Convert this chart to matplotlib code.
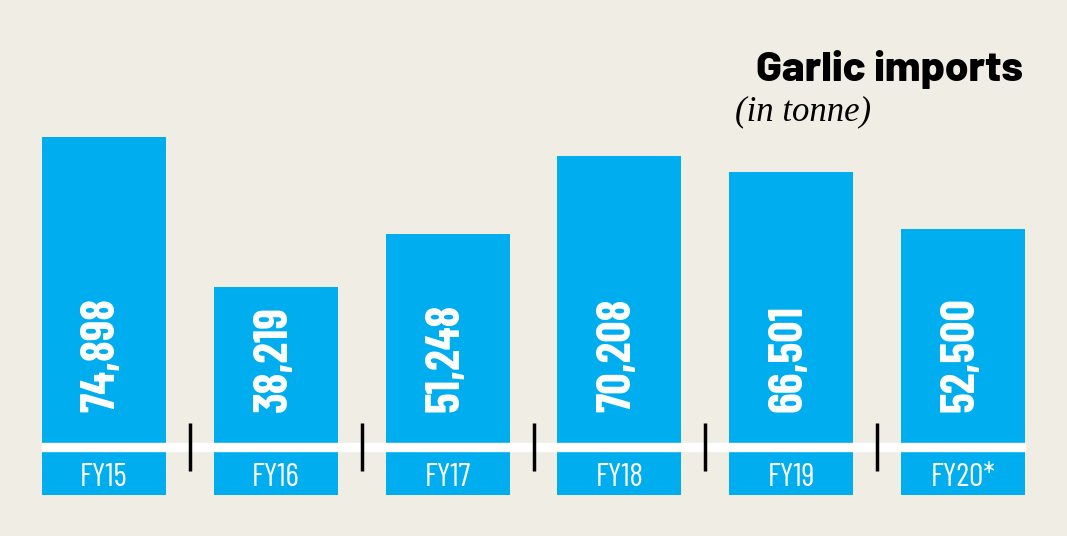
import matplotlib
matplotlib.use("Agg")
import matplotlib.pyplot as plt

years = ["FY15", "FY16", "FY17", "FY18", "FY19", "FY20*"]
imports = [74898, 38219, 51248, 70208, 66501, 52500]

bg = "#f0ede5"
blue = "#00adef"
cond = ["Barlow Condensed", "DejaVu Sans"]

W, H = 1067, 536
fig = plt.figure(figsize=(W / 100, H / 100), dpi=100, facecolor=bg)
ax = fig.add_axes([0, 0, 1, 1])
ax.set_facecolor(bg)

k = 245.0  # tonnes per pixel
base = 93  # pixels from bottom to baseline
step = 171.8
ax.set_xlim(-104 / step, (W - 104) / step)
ax.set_ylim(-base * k, (H - base) * k)
ax.axis("off")

x = range(len(years))
bw = 124 / step
ax.bar(x, imports, width=bw, color=blue, zorder=2)
ax.bar(x, [44 * k] * len(years), bottom=-52 * k, width=bw, color=blue, zorder=2)
ax.axhspan(-8 * k, 0, xmin=42 / W, xmax=1025 / W, color="white", zorder=3)
ax.vlines([i + 0.5 for i in range(len(years) - 1)], -28 * k, 20 * k,
          color="black", lw=2.5, zorder=3)

for i, v in enumerate(imports):
    ax.text(i - 0.01, 31 * k, f"{v:,}", rotation=90, ha="center", va="bottom",
            color="white", fontsize=34, fontweight="bold", family=cond, zorder=4)
    ax.text(i, -34.5 * k, years[i], ha="center", va="center", color="white",
            fontsize=23, family=cond, zorder=4)

fig.text(1023 / W, 1 - 81 / H, "Garlic imports", ha="right", va="baseline",
         fontsize=30.5, fontweight=800, family=["Barlow", "DejaVu Sans"])
fig.text(735 / W, 1 - 120 / H, "(in tonne)", ha="left", va="baseline",
         fontsize=25, style="italic", family=["Liberation Serif", "DejaVu Serif"])

fig.savefig("out.png", dpi=100, facecolor=bg)
